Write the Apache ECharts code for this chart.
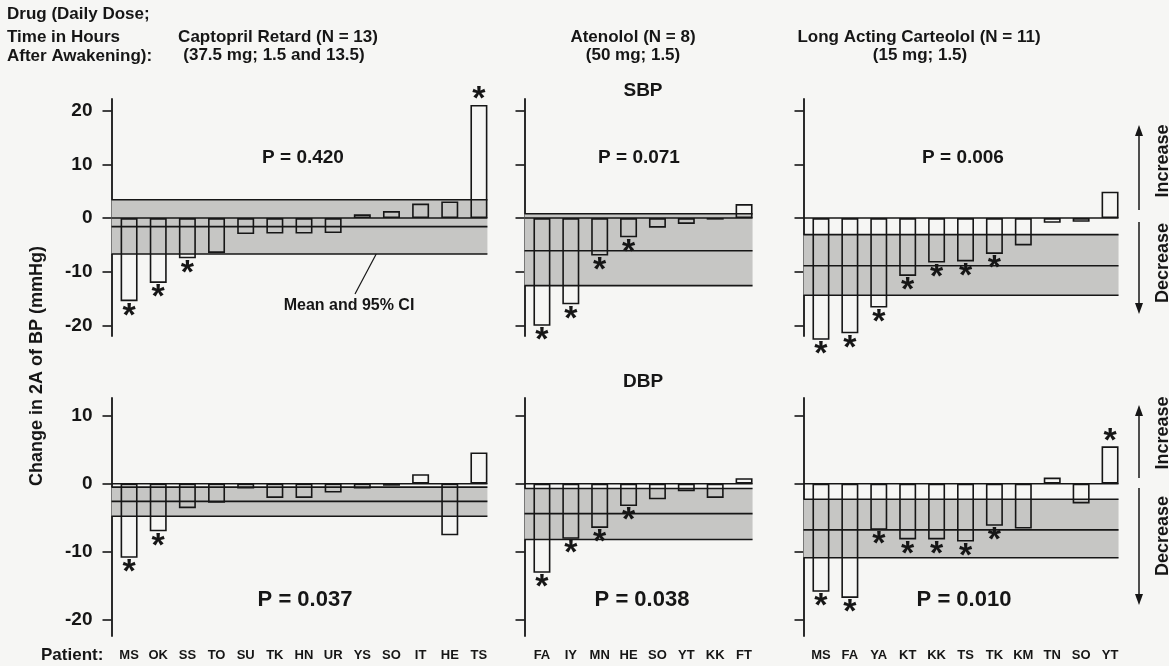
<!DOCTYPE html>
<html>
<head>
<meta charset="utf-8">
<script src="https://cdn.jsdelivr.net/npm/echarts@6/dist/echarts.min.js"></script>
<style>
  html, body { margin: 0; padding: 0; background: #f6f6f4; }
  #box { width: 1169px; height: 666px; }
</style>
</head>
<body>
<div id="box"></div>
<script>
// patients, ordered as drawn (by SBP change)
const capPatients = ['MS', 'OK', 'SS', 'TO', 'SU', 'TK', 'HN', 'UR', 'YS', 'SO', 'IT', 'HE', 'TS'];
const atnPatients = ['FA', 'IY', 'MN', 'HE', 'SO', 'YT', 'KK', 'FT'];
const carPatients = ['MS', 'FA', 'YA', 'KT', 'KK', 'TS', 'TK', 'KM', 'TN', 'SO', 'YT'];

// change in 24h BP (mmHg) per patient
const capSbp = [-15.5, -12.1, -7.5, -6.5, -3.0, -2.9, -2.9, -2.8, 0.7, 1.3, 2.7, 3.1, 21.1];
const atnSbp = [-20.1, -16.1, -7.0, -3.6, -1.8, -1.1, -0.3, 2.6];
const carSbp = [-22.7, -21.5, -16.7, -10.8, -8.3, -8.1, -6.7, -5.1, -0.9, -0.7, 4.9];
const capDbp = [-10.9, -7.0, -3.6, -2.8, -0.7, -2.1, -2.1, -1.3, -0.7, -0.3, 1.4, -7.6, 4.6];
const atnDbp = [-13.1, -8.1, -6.5, -3.3, -2.3, -1.1, -2.1, 0.8];
const carDbp = [-15.9, -16.8, -6.8, -8.2, -8.2, -8.5, -6.2, -6.6, 0.9, -2.9, 5.5];

// mean and 95% CI: [lower, mean, upper]
const capSbpCi = [-6.7, -1.6, 3.4];
const atnSbpCi = [-12.6, -6.1, 0.8];
const carSbpCi = [-14.4, -8.9, -3.1];
const capDbpCi = [-4.8, -2.6, -0.5];
const atnDbpCi = [-8.2, -4.4, -0.7];
const carDbpCi = [-10.9, -6.8, -2.3];

// significant individual change (asterisk)
const capSbpSig = [1, 1, 1, 0, 0, 0, 0, 0, 0, 0, 0, 0, 1];
const atnSbpSig = [1, 1, 1, 1, 0, 0, 0, 0];
const carSbpSig = [1, 1, 1, 1, 1, 1, 1, 0, 0, 0, 0];
const capDbpSig = [1, 1, 0, 0, 0, 0, 0, 0, 0, 0, 0, 0, 0];
const atnDbpSig = [1, 1, 1, 1, 0, 0, 0, 0];
const carDbpSig = [1, 1, 1, 1, 1, 1, 1, 0, 0, 0, 1];

const sbpP = ['P = 0.420', 'P = 0.071', 'P = 0.006'];
const dbpP = ['P = 0.037', 'P = 0.038', 'P = 0.010'];
const sbpTicks = [-20, -10, 0, 10, 20];
const dbpTicks = [-20, -10, 0, 10];

const INK = '#161616';
const BAND = '#c6c6c4';
const FONT = '"Liberation Sans", Arial, Helvetica, sans-serif';
const BAR_W = 17;
const AXIS_OFF = 3;

const cols = [
  { left: 114.5, width: 379, cats: capPatients },
  { left: 527.5, width: 231, cats: atnPatients },
  { left: 806.5, width: 318, cats: carPatients }
];
const rows = [
  { top: 99, height: 237, min: -22, max: 22.2, ticks: sbpTicks,
    vals: [capSbp, atnSbp, carSbp], ci: [capSbpCi, atnSbpCi, carSbpCi], sig: [capSbpSig, atnSbpSig, carSbpSig] },
  { top: 398, height: 238, min: -22.4, max: 12.6, ticks: dbpTicks,
    vals: [capDbp, atnDbp, carDbp], ci: [capDbpCi, atnDbpCi, carDbpCi], sig: [capDbpSig, atnDbpSig, carDbpSig] }
];

// grey CI band with its bounds, mean and the zero line, from the axis to the last bar
function drawBand(params, api) {
  const cs = params.coordSys;
  const last = api.value(0);
  const x0 = cs.x - AXIS_OFF;
  const x1 = api.coord([last, 0])[0] + BAR_W / 2;
  const yOf = v => api.coord([last, v])[1];
  const yLo = yOf(api.value(1)), yMean = yOf(api.value(2)), yHi = yOf(api.value(3)), yZero = yOf(0);
  const line = y => ({ type: 'line', shape: { x1: x0, y1: y, x2: x1, y2: y },
    style: { stroke: INK, lineWidth: 1.6 } });
  return {
    type: 'group',
    children: [
      { type: 'rect', shape: { x: x0, y: yHi, width: x1 - x0, height: yLo - yHi }, style: { fill: BAND } },
      line(yHi), line(yMean), line(yLo), line(yZero)
    ]
  };
}

const grid = [], xAxis = [], yAxis = [], series = [];
rows.forEach((row, r) => {
  cols.forEach((col, c) => {
    const i = r * 3 + c;
    grid.push({ left: col.left, width: col.width, top: row.top, height: row.height });
    xAxis.push({
      gridIndex: i, type: 'category', data: col.cats,
      axisLine: { show: false, onZero: false }, axisTick: { show: false },
      axisLabel: { show: r === 1, margin: 13, interval: 0, color: INK, fontSize: 13, fontWeight: 'bold', fontFamily: FONT },
      splitLine: { show: false }
    });
    yAxis.push({
      gridIndex: i, type: 'value', min: row.min, max: row.max, offset: AXIS_OFF,
      axisLine: { show: true, onZero: false, lineStyle: { color: INK, width: 1.8 } },
      axisTick: { show: true, inside: false, length: 9, customValues: row.ticks, lineStyle: { color: INK, width: 1.6 } },
      axisLabel: { show: c === 0, customValues: row.ticks, margin: 19, color: INK, fontSize: 19, fontWeight: 'bold', fontFamily: FONT },
      splitLine: { show: false }
    });
    const ci = row.ci[c];
    series.push({
      type: 'custom', xAxisIndex: i, yAxisIndex: i, silent: true, z: 1,
      renderItem: drawBand,
      encode: { x: 0, y: [1, 2, 3] },
      data: [[col.cats.length - 1, ci[0], ci[1], ci[2]]]
    });
    const sig = row.sig[c];
    series.push({
      type: 'bar', xAxisIndex: i, yAxisIndex: i, barWidth: BAR_W, clip: false, silent: true, z: 2,
      itemStyle: { color: 'rgba(0,0,0,0)', borderColor: INK, borderWidth: 1.6 },
      label: { formatter: '*', color: INK, fontSize: 34, fontWeight: 'bold', fontFamily: FONT, lineHeight: 16 },
      data: row.vals[c].map((v, k) => ({
        value: v,
        label: { show: !!sig[k], position: v < 0 ? 'bottom' : 'top', distance: v < 0 ? 7 : -3 }
      }))
    });
  });
});

function txt(text, x, y, size, align, extra) {
  return Object.assign({
    type: 'text', x: x, y: y, silent: true,
    style: { text: text, font: 'bold ' + size + 'px ' + FONT, fill: INK,
      align: align || 'center', verticalAlign: 'middle', textAlign: align || 'center', textVerticalAlign: 'middle' }
  }, extra || {});
}
function arrow(x, yTail, yTip) {
  const d = yTip < yTail ? -1 : 1;
  return [
    { type: 'line', silent: true, shape: { x1: x, y1: yTail, x2: x, y2: yTip - d * 8 }, style: { stroke: INK, lineWidth: 1.5 } },
    { type: 'polygon', silent: true, shape: { points: [[x, yTip], [x - 4, yTip - d * 11], [x + 4, yTip - d * 11]] }, style: { fill: INK } }
  ];
}

const graphic = [
  txt('Drug (Daily Dose;', 7, 14, 17, 'left'),
  txt('Time in Hours', 7, 37, 17, 'left'),
  txt('After Awakening):', 7, 56, 17, 'left'),
  txt('Captopril Retard (N = 13)', 278, 37, 17),
  txt('(37.5 mg; 1.5 and 13.5)', 274, 55, 17),
  txt('Atenolol (N = 8)', 633, 37, 17),
  txt('(50 mg; 1.5)', 633, 55, 17),
  txt('Long Acting Carteolol (N = 11)', 919, 37, 17),
  txt('(15 mg; 1.5)', 920, 55, 17),
  txt('SBP', 643, 91, 19),
  txt('DBP', 643, 382, 19),
  txt(sbpP[0], 303, 158, 19), txt(sbpP[1], 639, 158, 19), txt(sbpP[2], 963, 158, 19),
  txt(dbpP[0], 305, 600, 22), txt(dbpP[1], 642, 600, 22), txt(dbpP[2], 964, 600, 22),
  txt('Mean and 95% CI', 349, 306, 16),
  { type: 'line', silent: true, shape: { x1: 355, y1: 294, x2: 390, y2: 228 }, style: { stroke: INK, lineWidth: 1.2 } },
  txt('Change in 2A of BP (mmHg)', 37, 366, 18, 'center', { rotation: Math.PI / 2 }),
  txt('Patient:', 41, 655, 17, 'left'),
  txt('Increase', 1163, 161, 18, 'center', { rotation: Math.PI / 2 }),
  txt('Decrease', 1163, 263, 18, 'center', { rotation: Math.PI / 2 }),
  txt('Increase', 1163, 433, 18, 'center', { rotation: Math.PI / 2 }),
  txt('Decrease', 1163, 536, 18, 'center', { rotation: Math.PI / 2 })
].concat(arrow(1139, 210, 125), arrow(1139, 222, 314), arrow(1139, 478, 405), arrow(1139, 488, 605));

const chart = echarts.init(document.getElementById('box'));
chart.setOption({
  backgroundColor: '#f6f6f4',
  animation: false,
  grid: grid,
  xAxis: xAxis,
  yAxis: yAxis,
  series: series,
  graphic: graphic
});
</script>
</body>
</html>
